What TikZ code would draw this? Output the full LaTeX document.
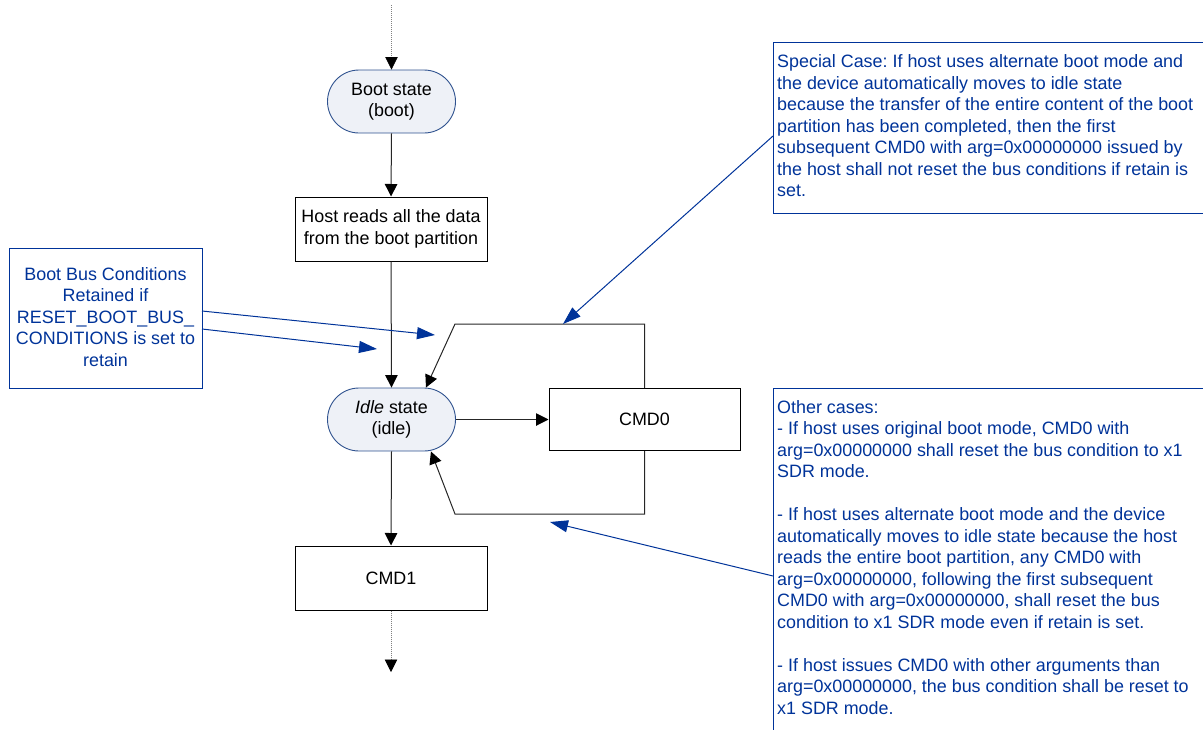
\documentclass[tikz,border=0pt]{standalone}
\usepackage{fontspec}
\setmainfont{Liberation Sans}
\usetikzlibrary{arrows.meta}
\definecolor{noteblue}{RGB}{0,51,153}
\definecolor{stateedge}{RGB}{47,82,143}
\definecolor{statefill}{RGB}{238,241,247}
\frenchspacing

\begin{document}
\begin{tikzpicture}[x=1pt,y=-1pt,
  font=\fontsize{17.9}{21.5}\selectfont,
  state/.style={rectangle, rounded corners=31.5pt, draw=stateedge, fill=statefill,
    line width=0.9pt, minimum width=128pt, minimum height=63pt, align=center, inner sep=0pt},
  stepbox/.style={rectangle, draw=black, line width=1pt, minimum width=192pt,
    minimum height=64pt, align=center, inner sep=0pt},
  notebox/.style={rectangle, draw=noteblue, line width=1pt, anchor=north west, inner sep=0pt},
  notetext/.style={text=noteblue, inner sep=0pt},
  flow/.style={draw=black!85, line width=1pt, -{Triangle[length=12.5pt,width=12.5pt,color=black]}},
  dotflow/.style={draw=gray, line width=0.7pt, dash pattern=on 0.8pt off 1.2pt,
    -{Triangle[length=12.5pt,width=12.5pt,fill=black,color=black]}},
  noteline/.style={draw=noteblue, line width=1pt, -{Triangle[length=18pt,width=12pt]}}
]
\useasboundingbox (0,0) rectangle (1203,729);
\clip (0,0) rectangle (1203,729);

% flow nodes
\node[state] (boot) at (391.5,101.5) {Boot state\\(boot)};
\node[stepbox] (host) at (391,229) {Host reads all the data\\from the boot partition};
\node[state] (idle) at (391.5,419.5) {\textit{Idle} state\\(idle)};
\node[stepbox, minimum width=191pt, minimum height=62pt] (cmd0) at (644.5,419.5) {CMD0};
\node[stepbox] (cmd1) at (391,578) {CMD1};

% entry and exit of the flow
\coordinate (topin) at (391.5,5);
\coordinate (botout) at (391,672);
\draw[dotflow] (topin) -- (boot.north);
\draw[dotflow] (cmd1.south) -- (botout);

% main connectors
\draw[flow] (boot.south) -- (host.north);
\draw[flow] (host.south) -- (idle.north);
\draw[flow] (idle.east) -- (cmd0.west);
\draw[flow] (idle.south) -- (cmd1.north);

% CMD0 return loops
\coordinate (upknee) at (455,324);
\coordinate (lowknee) at (455,514);
\draw[flow] (cmd0.north) |- (upknee) -- ([xshift=-30pt]idle.north east);
\draw[flow] (cmd0.south) |- (lowknee) -- ([xshift=-25pt]idle.south east);

% callout: boot bus conditions
\node[notebox, minimum width=193pt, minimum height=140pt] (bbc) at (9,248) {};
\node[notetext, align=center, anchor=north] (bbctext) at (105.5,267)
  {Boot Bus Conditions\\Retained if\\RESET\_BOOT\_BUS\_\\CONDITIONS is set to\\retain};
\coordinate (bbcA) at (202,311);
\coordinate (bbcB) at (202,329);
\coordinate (tipA) at (435,335);
\coordinate (tipB) at (377,349);
\draw[noteline] (bbcA) -- (tipA);
\draw[noteline] (bbcB) -- (tipB);

% callout: special case
\node[notebox, minimum width=430pt, minimum height=171pt] (sc) at (773,42) {};
\node[notetext, align=left, anchor=north west] (sctext) at (777,54.5)
  {Special Case: If host uses alternate boot mode and\\
   the device automatically moves to idle state\\
   because the transfer of the entire content of the boot\\
   partition has been completed, then the first\\
   subsequent CMD0 with arg=0x00000000 issued by\\
   the host shall not reset the bus conditions if retain is\\
   set.};
\coordinate (scA) at (773,136);
\coordinate (tipC) at (563,324);
\draw[noteline] (scA) -- (tipC);

% callout: other cases
\node[notebox, minimum width=430pt, minimum height=360pt] (oc) at (773,388) {};
\node[notetext, align=left, anchor=north west] (octext) at (777,400)
  {Other cases:\\
   - If host uses original boot mode, CMD0 with\\
   arg=0x00000000 shall reset the bus condition to x1\\
   SDR mode.\\[21.5pt]
   - If host uses alternate boot mode and the device\\
   automatically moves to idle state because the host\\
   reads the entire boot partition, any CMD0 with\\
   arg=0x00000000, following the first subsequent\\
   CMD0 with arg=0x00000000, shall reset the bus\\
   condition to x1 SDR mode even if retain is set.\\[21.5pt]
   - If host issues CMD0 with other arguments than\\
   arg=0x00000000, the bus condition shall be reset to\\
   x1 SDR mode.};
\coordinate (ocA) at (773,576);
\coordinate (tipD) at (550,522);
\draw[noteline] (ocA) -- (tipD);
\end{tikzpicture}
\end{document}
